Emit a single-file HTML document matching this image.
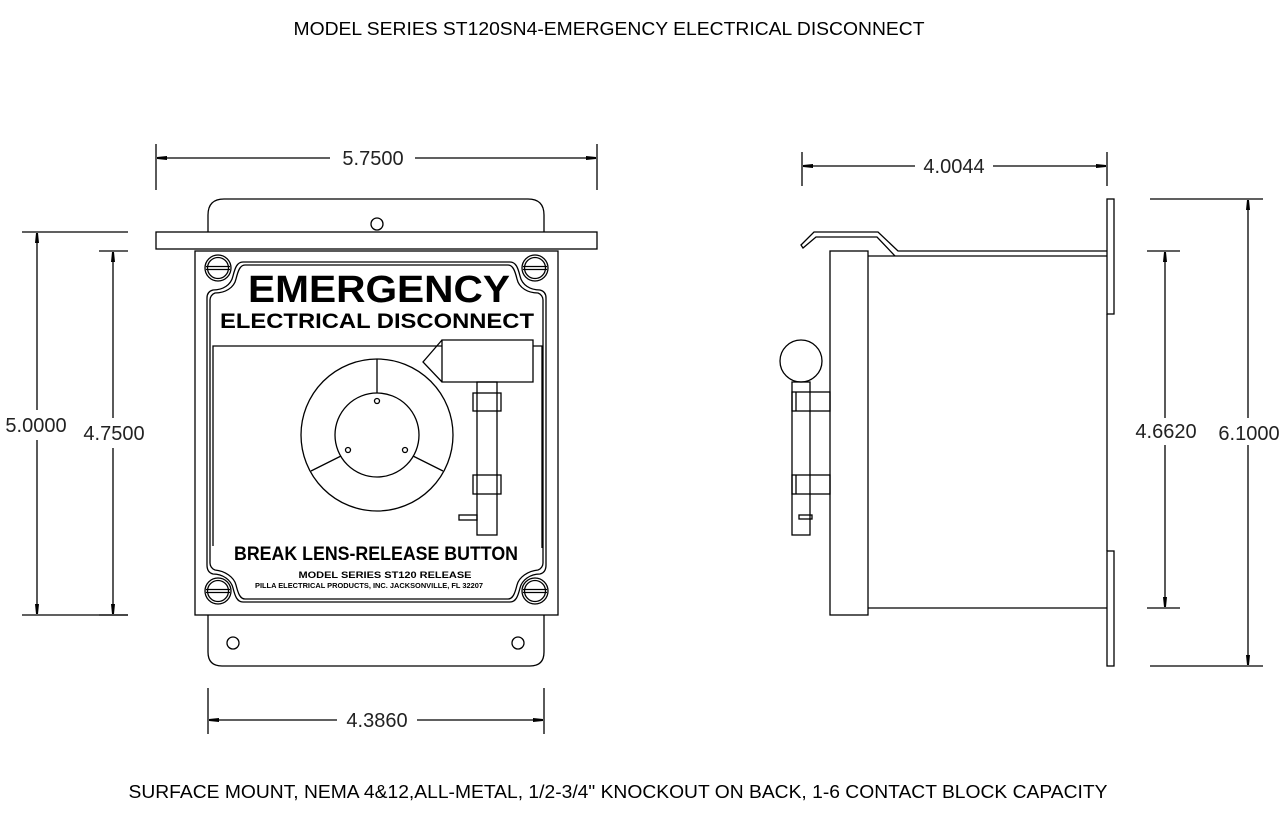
<!DOCTYPE html>
<html><head><meta charset="utf-8"><style>
html,body{margin:0;padding:0;background:#fff;}
svg{display:block}
.l{fill:none;stroke:#000;stroke-width:1.3}
.d{font-family:"Liberation Sans",sans-serif;font-size:20px;fill:#222;}
</style></head><body>
<svg width="1287" height="833" viewBox="0 0 1287 833" xmlns="http://www.w3.org/2000/svg">
<defs>
<marker id="a" viewBox="0 0 10 6" refX="10" refY="3" markerWidth="10" markerHeight="6" orient="auto" markerUnits="userSpaceOnUse"><path d="M0,1 L10,2 L10,4 L0,5 Z" fill="#000"/></marker>
<g id="sc"><circle r="13" class="l"/><circle r="10.5" class="l"/><line x1="-12" y1="-1.5" x2="12" y2="-1.5" class="l"/><line x1="-12" y1="1.5" x2="12" y2="1.5" class="l"/></g>
</defs>
<text x="609" y="35" text-anchor="middle" font-family="Liberation Sans,sans-serif" font-size="18" textLength="631" lengthAdjust="spacingAndGlyphs">MODEL SERIES ST120SN4-EMERGENCY ELECTRICAL DISCONNECT</text>
<text x="618" y="798" text-anchor="middle" font-family="Liberation Sans,sans-serif" font-size="18" textLength="979" lengthAdjust="spacingAndGlyphs">SURFACE MOUNT, NEMA 4&amp;12,ALL-METAL, 1/2-3/4" KNOCKOUT ON BACK, 1-6 CONTACT BLOCK CAPACITY</text>

<!-- front view -->
<path class="l" d="M208,232 V215 Q208,199 224,199 H528 Q544,199 544,215 V232"/>
<circle cx="377" cy="224" r="6" class="l"/>
<rect x="156" y="232" width="441" height="17" class="l"/>
<rect x="195" y="251" width="363" height="364" class="l"/>
<path class="l" d="M243,262 H510 C516,262 518,268 520,276 C522,285 530,290 540,290 C544,291 546,294 546,298 V565 C546,570 544,573 540,574 C530,574 522,580 520,588 C518,596 516,602 510,602 H243 C237,602 235,596 233,588 C231,580 223,574 213,574 C209,573 207,570 207,565 V298 C207,294 209,291 213,290 C223,290 231,285 233,276 C235,268 237,262 243,262 Z"/>
<path class="l" d="M245,265 H508 C513,265 515,271 517,279 C519,288 528,293 538,293 C541,294 543,297 543,300 V563 C543,566 541,569 538,570 C528,571 519,577 517,585 C515,593 513,599 508,599 H245 C240,599 238,593 236,585 C234,577 225,571 215,570 C212,569 210,566 210,563 V300 C210,297 212,294 215,293 C225,293 234,288 236,279 C238,271 240,265 245,265 Z"/>
<use href="#sc" x="218" y="268"/><use href="#sc" x="535" y="268"/>
<use href="#sc" x="218" y="591"/><use href="#sc" x="535" y="591"/>
<path class="l" d="M208,615 V652 Q208,666 222,666 H530 Q544,666 544,652 V615"/>
<circle cx="233" cy="643" r="6" class="l"/><circle cx="518" cy="643" r="6" class="l"/>
<text x="379" y="302" text-anchor="middle" font-family="Liberation Sans,sans-serif" font-weight="bold" font-size="38" textLength="262" lengthAdjust="spacingAndGlyphs">EMERGENCY</text>
<text x="377" y="328" text-anchor="middle" font-family="Liberation Sans,sans-serif" font-weight="bold" font-size="21" textLength="314" lengthAdjust="spacingAndGlyphs">ELECTRICAL DISCONNECT</text>
<path class="l" d="M213,546 V346 H442 M533,346 H542 V548"/>
<path class="l" d="M442,340 H533 V382 H442 Z M442,340 L423,362 L442,382"/>
<rect x="477" y="382" width="20" height="153" class="l"/>
<rect x="473" y="393" width="28" height="18" class="l"/>
<rect x="473" y="475" width="28" height="19" class="l"/>
<rect x="459" y="515" width="18" height="5" class="l"/>
<circle cx="377" cy="435" r="76" class="l"/>
<circle cx="377" cy="435" r="42" class="l"/>
<line x1="377" y1="359" x2="377" y2="393" class="l"/>
<line x1="341" y1="456" x2="311" y2="471" class="l"/>
<line x1="413" y1="456" x2="443" y2="471" class="l"/>
<circle cx="377" cy="401" r="2.5" class="l"/><circle cx="348" cy="450" r="2.5" class="l"/><circle cx="405" cy="450" r="2.5" class="l"/>
<text x="376" y="560" text-anchor="middle" font-family="Liberation Sans,sans-serif" font-weight="bold" font-size="19" textLength="284" lengthAdjust="spacingAndGlyphs">BREAK LENS-RELEASE BUTTON</text>
<text x="385" y="578" text-anchor="middle" font-family="Liberation Sans,sans-serif" font-weight="bold" font-size="9" textLength="173" lengthAdjust="spacingAndGlyphs">MODEL SERIES ST120 RELEASE</text>
<text x="369" y="588" text-anchor="middle" font-family="Liberation Sans,sans-serif" font-weight="bold" font-size="7" textLength="228" lengthAdjust="spacingAndGlyphs">PILLA ELECTRICAL PRODUCTS, INC. JACKSONVILLE, FL 32207</text>

<!-- side view -->
<rect x="830" y="251" width="38" height="364" class="l"/>
<line x1="868" y1="256" x2="1107" y2="256" class="l"/>
<line x1="868" y1="608" x2="1107" y2="608" class="l"/>
<line x1="1107" y1="314" x2="1107" y2="551" class="l"/>
<rect x="1107" y="199" width="7" height="115" class="l"/>
<rect x="1107" y="551" width="7" height="115" class="l"/>
<path class="l" d="M1107,251 H898 L878,232 H814 L801,245 L803,248 L816,237 H877 L895,256"/>
<circle cx="801" cy="361" r="21" class="l"/>
<rect x="792" y="382" width="18" height="153" class="l"/>
<rect x="792" y="392" width="38" height="19" class="l"/>
<rect x="792" y="475" width="38" height="19" class="l"/>
<line x1="796" y1="392" x2="796" y2="411" class="l"/><line x1="796" y1="475" x2="796" y2="494" class="l"/>
<rect x="799" y="515" width="13" height="4" class="l"/>

<!-- dimensions -->
<g class="l" stroke-width="1">
<line x1="156" y1="144" x2="156" y2="190"/><line x1="597" y1="144" x2="597" y2="190"/>
<line x1="330" y1="158" x2="157" y2="158" marker-end="url(#a)"/><line x1="415" y1="158" x2="596" y2="158" marker-end="url(#a)"/>
<line x1="802" y1="152" x2="802" y2="186"/><line x1="1107" y1="152" x2="1107" y2="186"/>
<line x1="915" y1="166" x2="803" y2="166" marker-end="url(#a)"/><line x1="993" y1="166" x2="1106" y2="166" marker-end="url(#a)"/>
<line x1="208" y1="688" x2="208" y2="734"/><line x1="544" y1="688" x2="544" y2="734"/>
<line x1="337" y1="720" x2="209" y2="720" marker-end="url(#a)"/><line x1="417" y1="720" x2="543" y2="720" marker-end="url(#a)"/>
<line x1="22" y1="232" x2="128" y2="232"/><line x1="22" y1="615" x2="128" y2="615"/>
<line x1="37" y1="410" x2="37" y2="233" marker-end="url(#a)"/><line x1="37" y1="440" x2="37" y2="614" marker-end="url(#a)"/>
<line x1="99" y1="251" x2="128" y2="251"/><line x1="99" y1="615" x2="128" y2="615"/>
<line x1="113" y1="418" x2="113" y2="252" marker-end="url(#a)"/><line x1="113" y1="448" x2="113" y2="614" marker-end="url(#a)"/>
<line x1="1147" y1="251" x2="1180" y2="251"/><line x1="1147" y1="608" x2="1180" y2="608"/>
<line x1="1165" y1="418" x2="1165" y2="252" marker-end="url(#a)"/><line x1="1165" y1="445" x2="1165" y2="607" marker-end="url(#a)"/>
<line x1="1150" y1="199" x2="1263" y2="199"/><line x1="1150" y1="666" x2="1263" y2="666"/>
<line x1="1248" y1="418" x2="1248" y2="200" marker-end="url(#a)"/><line x1="1248" y1="445" x2="1248" y2="665" marker-end="url(#a)"/>
</g>
<text class="d" x="373" y="165" text-anchor="middle">5.7500</text>
<text class="d" x="954" y="173" text-anchor="middle">4.0044</text>
<text class="d" x="377" y="727" text-anchor="middle">4.3860</text>
<text class="d" x="36" y="432" text-anchor="middle">5.0000</text>
<text class="d" x="114" y="440" text-anchor="middle">4.7500</text>
<text class="d" x="1166" y="438" text-anchor="middle">4.6620</text>
<text class="d" x="1249" y="440" text-anchor="middle">6.1000</text>
</svg>
</body></html>
